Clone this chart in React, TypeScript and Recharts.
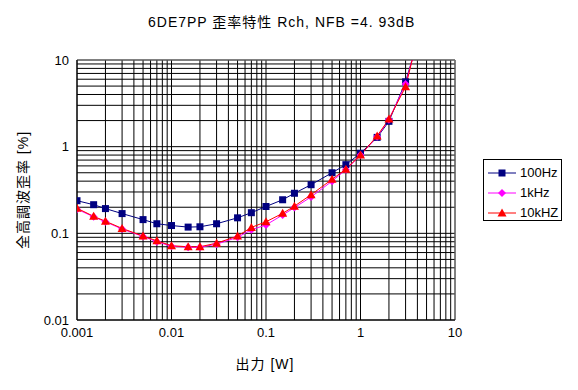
import { LineChart, Line, XAxis, YAxis, CartesianGrid, ReferenceLine } from 'recharts';

const power = [0.001, 0.0015, 0.002, 0.003, 0.005, 0.007, 0.01, 0.015, 0.02, 0.03, 0.05, 0.07, 0.1, 0.15, 0.2, 0.3, 0.5, 0.7, 1, 1.5, 2, 3, 3.6];
const thd100 = [0.238, 0.214, 0.193, 0.169, 0.144, 0.129, 0.123, 0.118, 0.119, 0.129, 0.151, 0.173, 0.204, 0.244, 0.29, 0.364, 0.5, 0.62, 0.84, 1.28, 1.96, 5.6, 11];
const thd1k = [0.19, 0.155, 0.136, 0.112, 0.092, 0.08, 0.071, 0.069, 0.069, 0.075, 0.09, 0.11, 0.125, 0.163, 0.198, 0.263, 0.4, 0.54, 0.8, 1.3, 2.05, 5.3, 11];
const thd10k = [0.195, 0.157, 0.138, 0.114, 0.093, 0.082, 0.072, 0.07, 0.07, 0.077, 0.093, 0.117, 0.136, 0.17, 0.206, 0.279, 0.42, 0.55, 0.8, 1.33, 2.08, 4.9, 11];

const decadesX = [0.001, 0.01, 0.1, 1, 10];
const decadesY = [0.01, 0.1, 1, 10];

const data = power.map((p, i) => ({ p, a: thd100[i], b: thd1k[i], c: thd10k[i] }));

function minors(decades: number[]) {
  const out: number[] = [];
  decades.slice(0, -1).forEach(d => {
    for (let k = 1; k < 10; k++) out.push(+(d * k).toPrecision(3));
  });
  out.push(decades[decades.length - 1]);
  return out;
}

const xTicks = minors(decadesX);
const yTicks = minors(decadesY);

const fmt = (v: number) => (decadesX.includes(v) || decadesY.includes(v) ? String(v) : '');

const sans = 'Arial, "Liberation Sans", "Noto Sans CJK JP", sans-serif';

function Square(props: any) {
  const { cx, cy, index } = props;
  return <rect key={index} x={cx - 3.5} y={cy - 3.5} width={7} height={7} fill='#000080' />;
}
function Diamond(props: any) {
  const { cx, cy, index } = props;
  return <polygon key={index} points={`${cx},${cy - 4} ${cx + 4},${cy} ${cx},${cy + 4} ${cx - 4},${cy}`} fill='#FF00FF' />;
}
function Triangle(props: any) {
  const { cx, cy, index } = props;
  return <polygon key={index} points={`${cx},${cy - 4.5} ${cx + 4.5},${cy + 3.5} ${cx - 4.5},${cy + 3.5}`} fill='#FF0000' />;
}

const legend = [
  { name: '100Hz', color: '#000080', Mark: Square },
  { name: '1kHz', color: '#FF00FF', Mark: Diamond },
  { name: '10kHZ', color: '#FF0000', Mark: Triangle }
];

export default function App() {
  return (
    <div style={{ position: 'absolute', left: 0, top: 0, width: 578, height: 390, background: '#fff', fontFamily: sans }}>
      <LineChart
        data={data}
        height={390}
        margin={{ top: 60, right: 123, bottom: 40, left: 0 }}
        width={578}
      >
        <CartesianGrid stroke='#000' strokeOpacity={1} />
        <XAxis
          allowDataOverflow
          dataKey='p'
          domain={[0.001, 10]}
          height={30}
          interval={0}
          scale='log'
          stroke='#000'
          tick={{ fill: '#000', fontSize: 13, fontFamily: sans }}
          tickFormatter={fmt}
          tickLine={false}
          ticks={xTicks}
          type='number'
        />
        <YAxis
          allowDataOverflow
          domain={[0.01, 10]}
          interval={0}
          scale='log'
          stroke='#000'
          tick={{ fill: '#000', fontSize: 13, fontFamily: sans }}
          tickFormatter={fmt}
          tickLine={false}
          ticks={yTicks}
          type='number'
          width={77}
        />
        <ReferenceLine stroke='#808080' y={10} />
        <ReferenceLine stroke='#808080' x={10} />
        <Line dataKey='a' dot={Square} isAnimationActive={false} stroke='#000080' strokeWidth={1} />
        <Line dataKey='b' dot={Diamond} isAnimationActive={false} stroke='#FF00FF' strokeWidth={1} />
        <Line dataKey='c' dot={Triangle} isAnimationActive={false} stroke='#FF0000' strokeWidth={1} />
      </LineChart>
      <div style={{ position: 'absolute', left: 148, top: 11, whiteSpace: 'nowrap', fontSize: 14, letterSpacing: 1 }}>
        6DE7PP 歪率特性 Rch, NFB =4. 93dB
      </div>
      <div style={{ position: 'absolute', left: 203, top: 353, width: 124, textAlign: 'center', fontSize: 14, letterSpacing: 1 }}>
        出力 [W]
      </div>
      <div
        style={{
          position: 'absolute',
          left: 22,
          top: 190,
          transform: 'translate(-50%, -50%) rotate(-90deg)',
          whiteSpace: 'nowrap',
          fontSize: 14,
          letterSpacing: 1
        }}
      >
        全高調波歪率 [%]
      </div>
      <div style={{ position: 'absolute', left: 483, top: 159, width: 77, height: 60, border: '1px solid #000' }}>
        {legend.map((l, i) => (
          <div key={l.name} style={{ position: 'absolute', left: 0, top: 4 + i * 20, height: 18, width: 77 }}>
            <svg height={18} style={{ position: 'absolute', left: 4 }} width={30}>
              <line stroke={l.color} x1={0} x2={28} y1={9} y2={9} />
              <l.Mark cx={14} cy={9} index={0} />
            </svg>
            <span style={{ position: 'absolute', left: 36, top: 1, fontSize: 13 }}>{l.name}</span>
          </div>
        ))}
      </div>
    </div>
  );
}
